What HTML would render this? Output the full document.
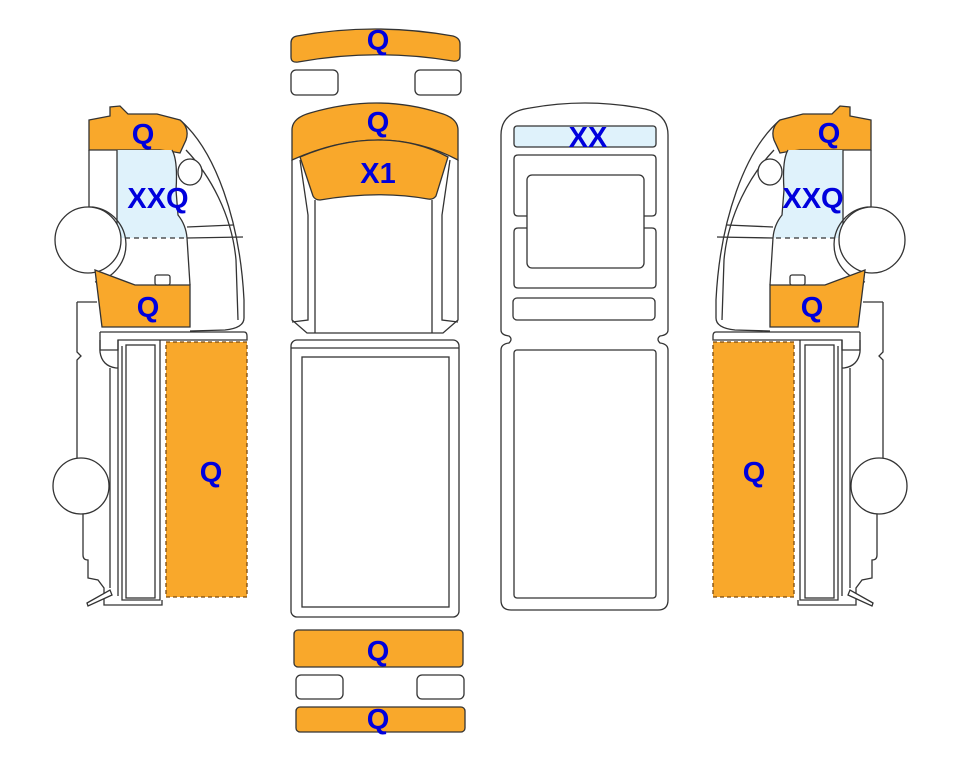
<!DOCTYPE html>
<html><head><meta charset="utf-8"><style>
html,body{margin:0;padding:0;background:#fff}
svg{display:block}
text{font-family:"Liberation Sans",Arial,sans-serif;font-weight:bold;fill:#0000dd;text-anchor:middle}
</style></head><body>
<svg width="963" height="768" viewBox="0 0 963 768" xmlns="http://www.w3.org/2000/svg">
<defs>
<g id="side" stroke="#333" stroke-width="1.3" fill="none">
  <path d="M180,120 C215,150 240,220 244,300 L244,318 Q244,328 225,330 L190,331" fill="#fff"/>
  <path d="M186,150 C210,175 232,215 236,260 L238,320"/>
  <path d="M187,227 L233,225 M187,238 L243,237"/>
  <ellipse cx="190" cy="172" rx="12" ry="13" fill="#fff"/>
  <path d="M89,120 L110,116 L110,107 L120,106 L128,114 L157,114 L180,120 Q190,128 186,140 L180,153 Q170,151 160,150 L89,150 Z" fill="#f9a82b"/>
  <path d="M117,150 L172,150 Q178,160 176,190 L178,215 Q186,225 186,238 L117,238 Z" fill="#dff2fb" stroke="none"/>
  <path d="M117,150 L117,238 M172,150 Q178,160 176,190 L178,215 Q186,225 187,238 L190,285"/>
  <line x1="125" y1="238" x2="186" y2="238" stroke-dasharray="5,4"/>
  <path d="M89,150 L89,207 L93,207"/>
  <path d="M93,207 A38,38 0 0 1 95,282"/>
  <circle cx="88" cy="240" r="33" fill="#fff"/>
  <path d="M95,270 L135,285 L190,285 L190,327 L102,327 Z" fill="#f9a82b"/>
  <rect x="155" y="275" width="15" height="10" rx="2" fill="#fff"/>
  <path d="M77,302 L97,302 M77,302 L77,352 L81,356 L77,360 L77,460"/>
  <path d="M100,332 L244,332 Q247,332 247,336 L247,340 L118,340 L118,350 L100,350 Q100,332 100,332"/>
  <path d="M100,340 L100,352 Q102,366 116,368 L118,368"/>
  <path d="M110,368 L110,588 M118,340 L118,596 M122,346 L122,600 L160,600 L160,340"/>
  <rect x="126" y="345" width="29" height="253" fill="#fff"/>
  <circle cx="81" cy="486" r="28" fill="#fff"/>
  <path d="M83,514 L83,555 Q83,560 88,560 L88,578 L98,580 L104,588 L104,605 L162,605 L162,600"/>
  <path d="M87,603 L110,590 L112,595 L88,606 Z" fill="#fff"/>
  <rect x="166" y="342" width="81" height="255" fill="#f9a82b" stroke="#7a4a10" stroke-dasharray="4,3"/>
</g>
</defs>
<use href="#side"/>
<use href="#side" transform="matrix(-1 0 0 1 960 0)"/>

<g stroke="#333" stroke-width="1.3" fill="none">
  <path d="M291,43 Q291,37 297,36 Q375,22 453,36 Q460,38 460,44 L460,56 Q460,62 453,61 Q375,48 298,62 Q291,63 291,57 Z" fill="#f9a82b"/>
  <rect x="291" y="70" width="47" height="25" rx="5" fill="#fff"/>
  <rect x="415" y="70" width="46" height="25" rx="5" fill="#fff"/>
  <path d="M292,160 L292,320 L307,333 L443,333 L458,320 L458,160" fill="#fff"/>
  <path d="M300,160 L308,215 L308,320 L292,322 M450,160 L442,215 L442,320 L458,322"/>
  <path d="M315,200 L315,333 M432,200 L432,333"/>
  <path d="M292,130 Q292,118 310,113 Q378,93 440,113 Q458,118 458,130 L458,160 Q420,140 378,140 Q336,140 292,160 Z" fill="#f9a82b"/>
  <path d="M300,157 Q340,140 378,140 Q416,140 448,157 L436,196 Q433,200 428,199 Q378,190 320,200 Q315,200 313,196 Z" fill="#f9a82b"/>
  <rect x="291" y="340" width="168" height="277" rx="6" fill="#fff"/>
  <line x1="291" y1="348" x2="459" y2="348"/>
  <rect x="302" y="357" width="147" height="250" fill="#fff"/>
  <rect x="294" y="630" width="169" height="37" rx="4" fill="#f9a82b"/>
  <rect x="296" y="675" width="47" height="24" rx="5" fill="#fff"/>
  <rect x="417" y="675" width="47" height="24" rx="5" fill="#fff"/>
  <rect x="296" y="707" width="169" height="25" rx="4" fill="#f9a82b"/>
  <path d="M501,330 L501,135 Q501,112 530,108 Q585,98 640,108 Q668,112 668,135 L668,330 Q668,335 660,336 Q656,339 660,343 Q668,344 668,350 L668,600 Q668,610 658,610 L511,610 Q501,610 501,600 L501,350 Q501,344 509,343 Q513,339 509,336 Q501,335 501,330 Z" fill="#fff"/>
  <rect x="514" y="126" width="142" height="21" rx="3" fill="#dff2fb"/>
  <path d="M527,216 L518,216 Q514,216 514,212 L514,159 Q514,155 518,155 L652,155 Q656,155 656,159 L656,212 Q656,216 652,216 L644,216"/>
  <path d="M527,228 L518,228 Q514,228 514,232 L514,284 Q514,288 518,288 L652,288 Q656,288 656,284 L656,232 Q656,228 652,228 L644,228"/>
  <rect x="527" y="175" width="117" height="93" rx="5" fill="#fff"/>
  <rect x="513" y="298" width="142" height="22" rx="4" fill="#fff"/>
  <rect x="514" y="350" width="142" height="248" rx="3" fill="#fff"/>
</g>

<g font-size="29">
<text x="378" y="50">Q</text>
<text x="378" y="132">Q</text>
<text x="378" y="183">X1</text>
<text x="143" y="144">Q</text>
<text x="158" y="208">XXQ</text>
<text x="148" y="317">Q</text>
<text x="211" y="482">Q</text>
<text x="588" y="147">XX</text>
<text x="829" y="143">Q</text>
<text x="813" y="208">XXQ</text>
<text x="812" y="317">Q</text>
<text x="754" y="482">Q</text>
<text x="378" y="661">Q</text>
<text x="378" y="729">Q</text>
</g>
</svg>
</body></html>
